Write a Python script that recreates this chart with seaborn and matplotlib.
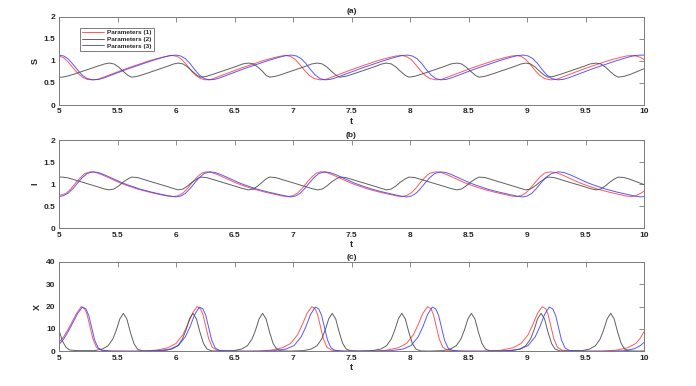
import matplotlib
matplotlib.use("Agg")
import matplotlib.pyplot as plt
import seaborn as sns
import pandas as pd

# ---------------- data ----------------
labels = ["Parameters (1)", "Parameters (2)", "Parameters (3)"]
colors = ["#ff3b3b", "#444444", "#3b3bff"]
xticks = [5, 5.5, 6, 6.5, 7, 7.5, 8, 8.5, 9, 9.5, 10]
xticklabels = ["5", "5.5", "6", "6.5", "7", "7.5", "8", "8.5", "9", "9.5", "10"]
yticks_ab = [0, 0.5, 1, 1.5, 2]
yticklabels_ab = ["0", "0.5", "1", "1.5", "2"]
yticks_c = [0, 10, 20, 30, 40]
yticklabels_c = ["0", "10", "20", "30", "40"]
titles = ["(a)", "(b)", "(c)"]
ylabels = ["S", "I", "X"]

# Panel (a): S
t_S1 = [5.00, 5.04, 5.08, 5.12, 5.16, 5.20, 5.24, 5.28,
        5.33, 5.38, 5.48, 5.58, 5.68, 5.78, 5.88, 5.93, 5.97,
        6.01, 6.05, 6.09, 6.13, 6.17, 6.21, 6.25,
        6.30, 6.35, 6.45, 6.55, 6.65, 6.75, 6.85, 6.90, 6.94,
        6.98, 7.02, 7.06, 7.10, 7.14, 7.18, 7.23,
        7.28, 7.33, 7.43, 7.53, 7.63, 7.73, 7.83, 7.88, 7.93,
        7.97, 8.01, 8.05, 8.09, 8.13, 8.17, 8.22,
        8.27, 8.32, 8.42, 8.52, 8.62, 8.72, 8.82, 8.87, 8.91,
        8.95, 8.99, 9.03, 9.07, 9.11, 9.15, 9.20,
        9.25, 9.30, 9.40, 9.50, 9.60, 9.70, 9.80, 9.85, 9.89,
        9.93, 9.97, 10.00]
S1 = [1.11, 1.07, 0.97, 0.84, 0.72, 0.63, 0.58, 0.57,
      0.58, 0.63, 0.73, 0.83, 0.92, 1.01, 1.08, 1.11, 1.12,
      1.10, 1.03, 0.91, 0.78, 0.67, 0.60, 0.57,
      0.58, 0.63, 0.73, 0.83, 0.92, 1.01, 1.08, 1.11, 1.12,
      1.10, 1.03, 0.91, 0.78, 0.67, 0.60, 0.57,
      0.58, 0.63, 0.73, 0.83, 0.92, 1.01, 1.08, 1.11, 1.12,
      1.10, 1.03, 0.91, 0.78, 0.67, 0.60, 0.57,
      0.58, 0.63, 0.73, 0.83, 0.92, 1.01, 1.08, 1.11, 1.12,
      1.10, 1.03, 0.91, 0.78, 0.67, 0.60, 0.57,
      0.58, 0.63, 0.73, 0.83, 0.92, 1.01, 1.08, 1.11, 1.12,
      1.11, 1.08, 1.03]

t_S2 = [5.00, 5.03, 5.08, 5.13, 5.23, 5.33, 5.39, 5.43,
        5.47, 5.51, 5.55, 5.59, 5.62,
        5.67, 5.72, 5.82, 5.92, 5.98, 6.02,
        6.06, 6.10, 6.14, 6.18, 6.21,
        6.26, 6.31, 6.41, 6.51, 6.57, 6.62,
        6.66, 6.70, 6.74, 6.77, 6.80,
        6.85, 6.90, 7.00, 7.10, 7.16, 7.21,
        7.25, 7.29, 7.33, 7.37, 7.40,
        7.45, 7.50, 7.60, 7.70, 7.76, 7.80,
        7.84, 7.88, 7.92, 7.96, 7.99,
        8.04, 8.09, 8.19, 8.29, 8.35, 8.40,
        8.44, 8.48, 8.52, 8.56, 8.59,
        8.64, 8.69, 8.79, 8.89, 8.95, 8.99,
        9.03, 9.07, 9.11, 9.15, 9.18,
        9.23, 9.28, 9.38, 9.48, 9.54, 9.59,
        9.63, 9.67, 9.71, 9.75, 9.78,
        9.83, 9.88, 9.98, 10.00]
S2 = [0.63, 0.63, 0.66, 0.70, 0.79, 0.88, 0.93, 0.95,
      0.93, 0.86, 0.76, 0.67, 0.63,
      0.65, 0.69, 0.78, 0.87, 0.93, 0.95,
      0.93, 0.86, 0.76, 0.67, 0.63,
      0.65, 0.69, 0.78, 0.87, 0.93, 0.95,
      0.93, 0.86, 0.76, 0.67, 0.63,
      0.65, 0.69, 0.78, 0.87, 0.93, 0.95,
      0.93, 0.86, 0.76, 0.67, 0.63,
      0.65, 0.69, 0.78, 0.87, 0.93, 0.95,
      0.93, 0.86, 0.76, 0.67, 0.63,
      0.65, 0.69, 0.78, 0.87, 0.93, 0.95,
      0.93, 0.86, 0.76, 0.67, 0.63,
      0.65, 0.69, 0.78, 0.87, 0.93, 0.95,
      0.93, 0.86, 0.76, 0.67, 0.63,
      0.65, 0.69, 0.78, 0.87, 0.93, 0.95,
      0.93, 0.86, 0.76, 0.67, 0.63,
      0.65, 0.69, 0.80, 0.82]

t_S3 = [5.00, 5.04, 5.08, 5.12, 5.16, 5.20, 5.24, 5.29,
        5.34, 5.39, 5.49, 5.59, 5.69, 5.79, 5.89, 5.95, 6.00,
        6.04, 6.08, 6.12, 6.16, 6.20, 6.24, 6.28,
        6.33, 6.38, 6.48, 6.58, 6.68, 6.78, 6.88, 6.94, 6.99,
        7.03, 7.07, 7.11, 7.15, 7.19, 7.23, 7.27,
        7.32, 7.37, 7.47, 7.57, 7.67, 7.77, 7.87, 7.93, 7.98,
        8.02, 8.06, 8.10, 8.14, 8.18, 8.22, 8.26,
        8.31, 8.36, 8.46, 8.56, 8.66, 8.76, 8.86, 8.92, 8.97,
        9.01, 9.05, 9.09, 9.13, 9.17, 9.21, 9.26,
        9.31, 9.36, 9.46, 9.56, 9.66, 9.76, 9.86, 9.92, 9.97,
        10.00]
S3 = [1.13, 1.11, 1.04, 0.92, 0.79, 0.67, 0.60, 0.57,
      0.58, 0.62, 0.72, 0.82, 0.91, 1.00, 1.08, 1.12, 1.13,
      1.11, 1.05, 0.94, 0.80, 0.68, 0.60, 0.57,
      0.58, 0.62, 0.72, 0.82, 0.91, 1.00, 1.08, 1.12, 1.13,
      1.11, 1.05, 0.94, 0.80, 0.68, 0.60, 0.57,
      0.58, 0.62, 0.72, 0.82, 0.91, 1.00, 1.08, 1.12, 1.13,
      1.11, 1.05, 0.94, 0.80, 0.68, 0.60, 0.57,
      0.58, 0.62, 0.72, 0.82, 0.91, 1.00, 1.08, 1.12, 1.13,
      1.11, 1.05, 0.94, 0.80, 0.68, 0.60, 0.57,
      0.58, 0.62, 0.72, 0.82, 0.91, 1.00, 1.08, 1.12, 1.13,
      1.13]

# Panel (b): I
t_I1 = [5.00, 5.06, 5.10, 5.14, 5.18, 5.22, 5.27,
        5.32, 5.37, 5.42, 5.47, 5.52, 5.57, 5.67, 5.77, 5.87, 5.93, 5.98,
        6.02, 6.06, 6.10, 6.14, 6.18, 6.22, 6.26,
        6.31, 6.36, 6.41, 6.46, 6.51, 6.56, 6.66, 6.76, 6.86, 6.91, 6.96,
        7.00, 7.04, 7.08, 7.12, 7.16, 7.20, 7.24,
        7.29, 7.34, 7.39, 7.44, 7.49, 7.54, 7.64, 7.74, 7.84, 7.89, 7.93,
        7.97, 8.01, 8.05, 8.09, 8.13, 8.17, 8.22,
        8.27, 8.32, 8.37, 8.42, 8.47, 8.52, 8.62, 8.72, 8.82, 8.87, 8.91,
        8.95, 8.99, 9.03, 9.07, 9.11, 9.15, 9.20,
        9.25, 9.30, 9.35, 9.40, 9.45, 9.50, 9.60, 9.70, 9.80, 9.85, 9.89,
        9.93, 9.97, 10.00]
I1 = [0.74, 0.79, 0.89, 1.02, 1.14, 1.24, 1.28,
      1.26, 1.21, 1.15, 1.09, 1.03, 0.98, 0.89, 0.82, 0.76, 0.73, 0.72,
      0.74, 0.80, 0.91, 1.04, 1.16, 1.25, 1.28,
      1.26, 1.21, 1.15, 1.09, 1.03, 0.98, 0.89, 0.82, 0.76, 0.73, 0.72,
      0.74, 0.80, 0.91, 1.04, 1.16, 1.25, 1.28,
      1.26, 1.21, 1.15, 1.09, 1.03, 0.98, 0.89, 0.82, 0.76, 0.73, 0.72,
      0.74, 0.80, 0.91, 1.04, 1.16, 1.25, 1.28,
      1.26, 1.21, 1.15, 1.09, 1.03, 0.98, 0.89, 0.82, 0.76, 0.73, 0.72,
      0.74, 0.80, 0.91, 1.04, 1.16, 1.25, 1.28,
      1.26, 1.21, 1.15, 1.09, 1.03, 0.98, 0.89, 0.82, 0.76, 0.73, 0.72,
      0.74, 0.79, 0.84]

t_I2 = [5.00, 5.03, 5.08, 5.13, 5.23, 5.33, 5.39, 5.43,
        5.47, 5.51, 5.55, 5.59, 5.62,
        5.67, 5.72, 5.82, 5.92, 5.98, 6.02,
        6.06, 6.10, 6.14, 6.18, 6.21,
        6.26, 6.31, 6.41, 6.51, 6.57, 6.62,
        6.66, 6.70, 6.74, 6.77, 6.80,
        6.85, 6.90, 7.00, 7.10, 7.16, 7.21,
        7.25, 7.29, 7.33, 7.37, 7.40,
        7.45, 7.50, 7.60, 7.70, 7.76, 7.80,
        7.84, 7.88, 7.92, 7.96, 7.99,
        8.04, 8.09, 8.19, 8.29, 8.35, 8.40,
        8.44, 8.48, 8.52, 8.56, 8.59,
        8.64, 8.69, 8.79, 8.89, 8.95, 8.99,
        9.03, 9.07, 9.11, 9.15, 9.18,
        9.23, 9.28, 9.38, 9.48, 9.54, 9.59,
        9.63, 9.67, 9.71, 9.75, 9.78,
        9.83, 9.88, 9.98, 10.00]
I2 = [1.16, 1.16, 1.14, 1.10, 1.02, 0.94, 0.89, 0.87,
      0.89, 0.96, 1.05, 1.12, 1.16,
      1.15, 1.11, 1.03, 0.95, 0.90, 0.87,
      0.89, 0.96, 1.05, 1.12, 1.16,
      1.15, 1.11, 1.03, 0.95, 0.90, 0.87,
      0.89, 0.96, 1.05, 1.12, 1.16,
      1.15, 1.11, 1.03, 0.95, 0.90, 0.87,
      0.89, 0.96, 1.05, 1.12, 1.16,
      1.15, 1.11, 1.03, 0.95, 0.90, 0.87,
      0.89, 0.96, 1.05, 1.12, 1.16,
      1.15, 1.11, 1.03, 0.95, 0.90, 0.87,
      0.89, 0.96, 1.05, 1.12, 1.16,
      1.15, 1.11, 1.03, 0.95, 0.90, 0.87,
      0.89, 0.96, 1.05, 1.12, 1.16,
      1.15, 1.11, 1.03, 0.95, 0.90, 0.87,
      0.89, 0.96, 1.05, 1.12, 1.16,
      1.15, 1.11, 1.01, 0.99]

t_I3 = [5.00, 5.04, 5.08, 5.12, 5.16, 5.20, 5.24, 5.29,
        5.34, 5.39, 5.44, 5.49, 5.54, 5.59, 5.69, 5.79, 5.89, 5.95, 6.00,
        6.04, 6.08, 6.12, 6.16, 6.20, 6.24, 6.29,
        6.34, 6.39, 6.44, 6.49, 6.54, 6.59, 6.69, 6.79, 6.89, 6.94, 6.98,
        7.02, 7.06, 7.10, 7.14, 7.18, 7.22, 7.27,
        7.32, 7.37, 7.42, 7.47, 7.52, 7.57, 7.67, 7.77, 7.87, 7.92, 7.97,
        8.01, 8.05, 8.09, 8.13, 8.17, 8.21, 8.26,
        8.31, 8.36, 8.41, 8.46, 8.51, 8.56, 8.66, 8.76, 8.86, 8.91, 8.96,
        9.00, 9.04, 9.08, 9.12, 9.16, 9.21, 9.27,
        9.32, 9.37, 9.42, 9.47, 9.52, 9.57, 9.67, 9.77, 9.87, 9.92, 9.97,
        10.00]
I3 = [0.72, 0.74, 0.80, 0.90, 1.03, 1.15, 1.24, 1.28,
      1.26, 1.21, 1.15, 1.09, 1.03, 0.98, 0.89, 0.82, 0.76, 0.73, 0.71,
      0.73, 0.79, 0.90, 1.03, 1.15, 1.24, 1.28,
      1.26, 1.21, 1.15, 1.09, 1.03, 0.98, 0.89, 0.82, 0.76, 0.73, 0.71,
      0.73, 0.79, 0.90, 1.03, 1.15, 1.24, 1.28,
      1.26, 1.21, 1.15, 1.09, 1.03, 0.98, 0.89, 0.82, 0.76, 0.73, 0.71,
      0.73, 0.79, 0.90, 1.03, 1.15, 1.24, 1.28,
      1.26, 1.21, 1.15, 1.09, 1.03, 0.98, 0.89, 0.82, 0.76, 0.73, 0.71,
      0.73, 0.79, 0.90, 1.03, 1.15, 1.24, 1.28,
      1.26, 1.21, 1.15, 1.09, 1.03, 0.98, 0.89, 0.82, 0.76, 0.73, 0.71,
      0.72]

# Panel (c): X
t_X1 = [5.00, 5.04, 5.08, 5.11, 5.15, 5.19, 5.22, 5.24, 5.265, 5.29, 5.32, 5.36, 5.44,
        5.60, 5.70, 5.83, 5.93, 6.00, 6.06, 6.10, 6.14, 6.18, 6.21, 6.23, 6.255, 6.28, 6.31, 6.35, 6.43,
        6.60, 6.70, 6.81, 6.91, 6.98, 7.04, 7.08, 7.12, 7.16, 7.19, 7.21, 7.235, 7.26, 7.29, 7.33, 7.41,
        7.60, 7.70, 7.80, 7.90, 7.97, 8.03, 8.07, 8.11, 8.15, 8.18, 8.20, 8.225, 8.25, 8.28, 8.32, 8.40,
        8.60, 8.68, 8.78, 8.88, 8.95, 9.01, 9.05, 9.09, 9.13, 9.16, 9.18, 9.205, 9.23, 9.26, 9.30, 9.38,
        9.55, 9.65, 9.76, 9.86, 9.93, 9.97, 10.00]
X1 = [4.0, 6.5, 10.0, 13.0, 17.0, 20.0, 19.0, 16.5, 11.0, 5.5, 1.8, 0.5, 0.1,
      0.05, 0.1, 0.5, 1.6, 3.5, 7.5, 12.0, 17.0, 20.0, 19.0, 16.5, 11.0, 5.5, 1.8, 0.5, 0.1,
      0.05, 0.1, 0.5, 1.6, 3.5, 7.5, 12.0, 17.0, 20.0, 19.0, 16.5, 11.0, 5.5, 1.8, 0.5, 0.1,
      0.05, 0.1, 0.5, 1.6, 3.5, 7.5, 12.0, 17.0, 20.0, 19.0, 16.5, 11.0, 5.5, 1.8, 0.5, 0.1,
      0.05, 0.1, 0.5, 1.6, 3.5, 7.5, 12.0, 17.0, 20.0, 19.0, 16.5, 11.0, 5.5, 1.8, 0.5, 0.1,
      0.05, 0.1, 0.5, 1.6, 3.5, 6.0, 8.8]

t_X2 = [5.00, 5.03, 5.06, 5.09, 5.15, 5.30, 5.37, 5.42, 5.46, 5.49, 5.52, 5.55, 5.58, 5.61, 5.64, 5.67, 5.71,
        5.78, 5.90, 5.965, 6.015, 6.055, 6.085, 6.115, 6.145, 6.175, 6.205, 6.235, 6.265, 6.305,
        6.38, 6.49, 6.56, 6.61, 6.65, 6.68, 6.71, 6.74, 6.77, 6.80, 6.83, 6.86, 6.90,
        6.97, 7.09, 7.155, 7.205, 7.245, 7.275, 7.305, 7.335, 7.365, 7.395, 7.425, 7.455, 7.495,
        7.57, 7.68, 7.75, 7.80, 7.84, 7.87, 7.90, 7.93, 7.96, 7.99, 8.02, 8.05, 8.09,
        8.16, 8.28, 8.345, 8.395, 8.435, 8.465, 8.495, 8.525, 8.555, 8.585, 8.615, 8.645, 8.685,
        8.76, 8.87, 8.94, 8.99, 9.03, 9.06, 9.09, 9.12, 9.15, 9.18, 9.21, 9.24, 9.28,
        9.35, 9.47, 9.535, 9.585, 9.625, 9.655, 9.685, 9.715, 9.745, 9.775, 9.805, 9.835, 9.875,
        9.95, 10.00]
X2 = [9.5, 4.5, 1.8, 0.6, 0.3, 0.3, 1.0, 2.5, 5.5, 9.5, 14.5, 17.0, 14.5, 8.5, 3.5, 1.0, 0.2,
      0.1, 0.3, 1.0, 2.5, 5.5, 9.5, 14.5, 17.0, 14.5, 8.5, 3.5, 1.0, 0.2,
      0.1, 0.3, 1.0, 2.5, 5.5, 9.5, 14.5, 17.0, 14.5, 8.5, 3.5, 1.0, 0.2,
      0.1, 0.3, 1.0, 2.5, 5.5, 9.5, 14.5, 17.0, 14.5, 8.5, 3.5, 1.0, 0.2,
      0.1, 0.3, 1.0, 2.5, 5.5, 9.5, 14.5, 17.0, 14.5, 8.5, 3.5, 1.0, 0.2,
      0.1, 0.3, 1.0, 2.5, 5.5, 9.5, 14.5, 17.0, 14.5, 8.5, 3.5, 1.0, 0.2,
      0.1, 0.3, 1.0, 2.5, 5.5, 9.5, 14.5, 17.0, 14.5, 8.5, 3.5, 1.0, 0.2,
      0.1, 0.3, 1.0, 2.5, 5.5, 9.5, 14.5, 17.0, 14.5, 8.5, 3.5, 1.0, 0.2,
      0.1, 0.2]

t_X3 = [5.00, 5.04, 5.08, 5.12, 5.16, 5.20, 5.23, 5.255, 5.28, 5.305, 5.335, 5.37, 5.45,
        5.60, 5.75, 5.85, 5.95, 6.02, 6.08, 6.12, 6.16, 6.20, 6.23, 6.255, 6.28, 6.305, 6.335, 6.37, 6.45,
        6.60, 6.74, 6.84, 6.94, 7.01, 7.07, 7.11, 7.15, 7.19, 7.22, 7.245, 7.27, 7.295, 7.325, 7.36, 7.44,
        7.60, 7.74, 7.84, 7.94, 8.01, 8.07, 8.11, 8.15, 8.19, 8.22, 8.245, 8.27, 8.295, 8.325, 8.36, 8.44,
        8.60, 8.74, 8.84, 8.94, 9.01, 9.07, 9.11, 9.15, 9.19, 9.22, 9.245, 9.27, 9.295, 9.325, 9.36, 9.44,
        9.60, 9.74, 9.84, 9.92, 9.97, 10.00]
X3 = [3.0, 5.5, 9.0, 13.0, 17.0, 19.8, 19.0, 16.0, 10.5, 5.0, 1.5, 0.4, 0.1,
      0.05, 0.1, 0.3, 1.0, 2.6, 6.5, 11.0, 16.5, 19.8, 19.0, 16.0, 10.5, 5.0, 1.5, 0.4, 0.1,
      0.05, 0.1, 0.3, 1.0, 2.6, 6.5, 11.0, 16.5, 19.8, 19.0, 16.0, 10.5, 5.0, 1.5, 0.4, 0.1,
      0.05, 0.1, 0.3, 1.0, 2.6, 6.5, 11.0, 16.5, 19.8, 19.0, 16.0, 10.5, 5.0, 1.5, 0.4, 0.1,
      0.05, 0.1, 0.3, 1.0, 2.6, 6.5, 11.0, 16.5, 19.8, 19.0, 16.0, 10.5, 5.0, 1.5, 0.4, 0.1,
      0.05, 0.1, 0.3, 1.2, 2.6, 4.0]

# ---------------- figure ----------------
sns.set_theme(style="white")
plt.rcParams["font.family"] = ["Liberation Sans", "DejaVu Sans"]
plt.rcParams["font.weight"] = "bold"
plt.rcParams["axes.titleweight"] = "bold"
plt.rcParams["axes.labelweight"] = "bold"

fig = plt.figure(figsize=(6.96, 3.86), dpi=100)
L, W = 59 / 696, (644 - 59) / 696
positions = [
    [L, 1 - 105 / 386, W, (105 - 16.7) / 386],
    [L, 1 - 228.3 / 386, W, (228.3 - 140) / 386],
    [L, 1 - 351.3 / 386, W, (351.3 - 262) / 386],
]
panel_data = [
    [(t_S1, S1), (t_S2, S2), (t_S3, S3)],
    [(t_I1, I1), (t_I2, I2), (t_I3, I3)],
    [(t_X1, X1), (t_X2, X2), (t_X3, X3)],
]
ylims = [(0, 2), (0, 2), (0, 40)]
ytick_sets = [(yticks_ab, yticklabels_ab), (yticks_ab, yticklabels_ab), (yticks_c, yticklabels_c)]

spine_col = "#7a7a7a"
text_col = "#262626"

axes = []
for k in range(3):
    ax = fig.add_axes(positions[k])
    axes.append(ax)
    for j in range(3):
        tt, vv = panel_data[k][j]
        df = pd.DataFrame({"t": tt, "v": vv})
        sns.lineplot(data=df, x="t", y="v", ax=ax, color=colors[j],
                     linewidth=0.7, alpha=0.85, label=labels[j] if k == 0 else None,
                     estimator=None, sort=False)
    ax.set_xlim(5, 10)
    ax.set_ylim(*ylims[k])
    ax.set_xticks(xticks)
    ax.set_xticklabels(xticklabels)
    ax.set_yticks(ytick_sets[k][0])
    ax.set_yticklabels(ytick_sets[k][1])
    ax.tick_params(direction="in", top=True, right=True, length=3.5, width=0.6,
                   color=spine_col, labelcolor=text_col, labelsize=6, pad=2.5)
    for s in ax.spines.values():
        s.set_visible(True)
        s.set_color(spine_col)
        s.set_linewidth(0.7)
    ax.set_title(titles[k], fontsize=6, color=text_col, pad=2.5, fontweight="bold")
    ax.set_xlabel("t", fontsize=6.5, color=text_col, labelpad=1)
    ax.set_ylabel(ylabels[k], fontsize=6.5, color=text_col, labelpad=3)
    if ax.get_legend() is not None and k != 0:
        ax.get_legend().remove()

leg = axes[0].legend(loc="upper left", bbox_to_anchor=(80 / 696, 1 - 27.5 / 386),
                     bbox_transform=fig.transFigure, fontsize=4.6, frameon=True,
                     fancybox=False, handlelength=3.4, handletextpad=0.5,
                     borderpad=0.35, labelspacing=0.2, borderaxespad=0)
leg.get_frame().set_edgecolor("#444444")
leg.get_frame().set_linewidth(0.6)
for txt in leg.get_texts():
    txt.set_fontweight("bold")
    txt.set_color(text_col)

fig.savefig("out.png", dpi=100)
